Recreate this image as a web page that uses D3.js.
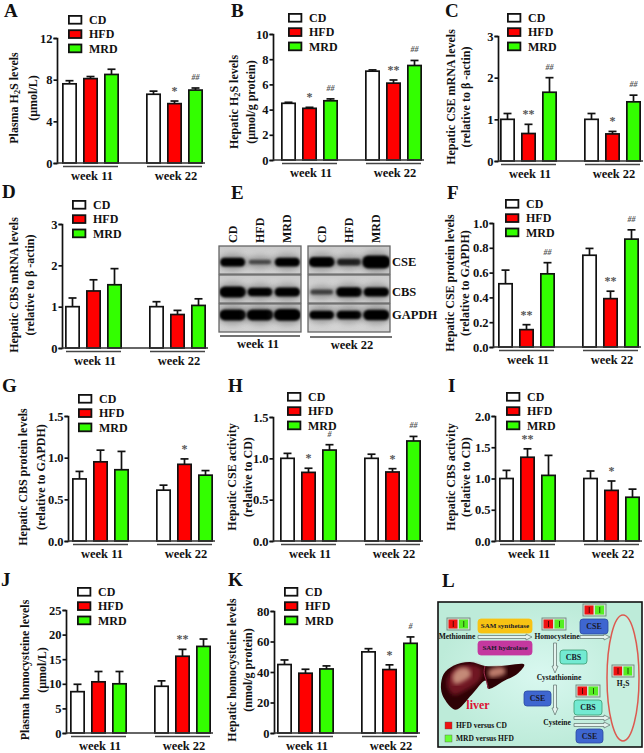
<!DOCTYPE html>
<html lang="en">
<head>
<meta charset="utf-8">
<title>Hepatic H2S and homocysteine panels</title>
<script src="https://d3js.org/d3.v7.min.js"></script>
<style>
  body { margin: 0; background: #fff; }
  svg { display: block; }
  text { font-family: "Liberation Serif", "Times New Roman", serif; font-weight: bold; fill: #111; }
</style>
</head>
<body>
<div id="vis"></div>
<script>
// Data. values = bar height, upper = top of the error bar
var groups = ["CD", "HFD", "MRD"];
var weeks = ["week 11", "week 22"];
var colours = ["#ffffff", "#ff0000", "#33ff00"];

var aValues = [7.6, 8.1, 8.5, 6.6, 5.7, 7.0];
var aUpper = [7.9, 8.3, 9.0, 6.9, 5.95, 7.2];
var aTicks = [0, 4, 8, 12];
var aSig = ["", "", "", "", "*", "##"];
var aTitle = ["Plasma H2S levels", "(μmol/L)"];

var bValues = [4.5, 4.1, 4.7, 7.05, 6.1, 7.5];
var bUpper = [4.58, 4.18, 4.85, 7.15, 6.35, 7.9];
var bTicks = [0, 2, 4, 6, 8, 10];
var bSig = ["", "*", "##", "", "**", "##"];
var bTitle = ["Hepatic  H2S levels", "(μmol/g protein)"];

var cValues = [1.0, 0.66, 1.65, 1.0, 0.65, 1.42];
var cUpper = [1.14, 0.88, 2.0, 1.14, 0.71, 1.58];
var cTicks = [0, 1, 2, 3];
var cSig = ["", "**", "##", "", "*", "##"];
var cTitle = ["Hepatic CSE mRNA levels", "(relative to β -actin)"];

var dValues = [1.0, 1.38, 1.53, 1.0, 0.81, 1.03];
var dUpper = [1.21, 1.65, 1.92, 1.12, 0.91, 1.19];
var dTicks = [0, 1, 2, 3];
var dSig = ["", "", "", "", "", ""];
var dTitle = ["Hepatic CBS mRNA levels", "(relative to β -actin)"];

var fValues = [0.51, 0.14, 0.59, 0.74, 0.39, 0.87];
var fUpper = [0.62, 0.18, 0.68, 0.795, 0.45, 0.945];
var fTicks = [0, 0.2, 0.4, 0.6, 0.8, 1.0];
var fSig = ["", "**", "##", "", "**", "##"];
var fTitle = ["Hepatic CSE protein levels", "(relative to GAPDH)"];

var gValues = [0.745, 0.95, 0.855, 0.61, 0.92, 0.79];
var gUpper = [0.835, 1.09, 1.075, 0.67, 0.985, 0.845];
var gTicks = [0, 0.5, 1.0, 1.5];
var gSig = ["", "", "", "", "*", ""];
var gTitle = ["Hepatic CBS protein levels", "(relative to GAPDH)"];

var hValues = [1.0, 0.83, 1.1, 1.0, 0.835, 1.21];
var hUpper = [1.06, 0.88, 1.165, 1.05, 0.875, 1.265];
var hTicks = [0, 0.5, 1.0, 1.5];
var hSig = ["", "*", "#", "", "*", "##"];
var hTitle = ["Hepatic CSE activity", "(relative to CD)"];

var iValues = [1.0, 1.34, 1.05, 1.0, 0.81, 0.70];
var iUpper = [1.13, 1.475, 1.37, 1.12, 0.96, 0.83];
var iTicks = [0, 0.5, 1.0, 1.5, 2.0];
var iSig = ["", "**", "", "", "*", ""];
var iTitle = ["Hepatic CBS activity", "(relative to CD)"];

var jValues = [8.4, 10.4, 10.0, 9.5, 15.6, 17.6];
var jUpper = [9.9, 12.5, 12.5, 10.6, 17.0, 19.1];
var jTicks = [0, 5, 10, 15, 20, 25];
var jSig = ["", "", "", "", "**", ""];
var jTitle = ["Plasma homocysteine levels", "(μmol/L)"];

var kValues = [44.9, 39.2, 42, 53.2, 41.6, 58.8];
var kUpper = [47.9, 41.8, 44, 55.3, 44.7, 63];
var kTicks = [0, 20, 40, 60, 80];
var kSig = ["", "", "", "", "*", "#"];
var kTitle = ["Hepatic homocysteine levels", "(nmol/g protein)"];

// Western blot band strength per lane, panel E
var blotRows = ["CSE", "CBS", "GAPDH"];
var blotWeek11 = [[0.75, 0.25, 0.75], [1.0, 0.7, 0.8], [1.0, 1.0, 1.1]];
var blotWeek22 = [[0.9, 0.5, 1.25], [0.3, 0.85, 0.8], [0.7, 0.7, 0.95]];

// Panel L labels
var pathwayMetabolites = ["Methionine", "Homocysteine", "Cystathionine", "Cysteine"];
var pathwayKey = ["HFD versus CD", "MRD versus HFD"];

// Layout of the chart panels
var panels = [
  {id: "A", values: aValues, upper: aUpper, ticks: aTicks, sig: aSig, title: aTitle, fmt: "d", left: 57, base: 163, top: 38, barX: 62, legX: 68, legY: 15, titleX: [14, 33], titleY: 98, letX: 4, letY: 17},
  {id: "B", values: bValues, upper: bUpper, ticks: bTicks, sig: bSig, title: bTitle, fmt: "d", left: 273, base: 160, top: 34, barX: 281, legX: 288, legY: 13, titleX: [234, 251], titleY: 102, letX: 231, letY: 17},
  {id: "C", values: cValues, upper: cUpper, ticks: cTicks, sig: cSig, title: cTitle, fmt: "d", left: 498, base: 161, top: 36, barX: 500, legX: 507, legY: 13, titleX: [451, 466], titleY: 97, letX: 445, letY: 17},
  {id: "D", values: dValues, upper: dUpper, ticks: dTicks, sig: dSig, title: dTitle, fmt: "d", left: 62, base: 348, top: 224, barX: 65, legX: 72, legY: 200, titleX: [14, 30], titleY: 285, letX: 2, letY: 198},
  {id: "F", values: fValues, upper: fUpper, ticks: fTicks, sig: fSig, title: fTitle, fmt: ".1f", left: 493, base: 347, top: 223, barX: 498, legX: 505, legY: 199, titleX: [450, 465], titleY: 283, letX: 447, letY: 199},
  {id: "G", values: gValues, upper: gUpper, ticks: gTicks, sig: gSig, title: gTitle, fmt: ".1f", left: 68, base: 541, top: 416, barX: 72, legX: 78, legY: 394, titleX: [23, 41], titleY: 477, letX: 2, letY: 392},
  {id: "H", values: hValues, upper: hUpper, ticks: hTicks, sig: hSig, title: hTitle, fmt: ".1f", left: 273, base: 541, top: 417, barX: 280, legX: 287, legY: 392, titleX: [232, 248], titleY: 477, letX: 228, letY: 392},
  {id: "I", values: iValues, upper: iUpper, ticks: iTicks, sig: iSig, title: iTitle, fmt: ".1f", left: 495, base: 541, top: 416, barX: 499, legX: 506, legY: 392, titleX: [451, 466], titleY: 477, letX: 448, letY: 392},
  {id: "J", values: jValues, upper: jUpper, ticks: jTicks, sig: jSig, title: jTitle, fmt: "d", left: 66, base: 733, top: 610, barX: 70, legX: 77, legY: 587, titleX: [25, 42], titleY: 670, letX: 1, letY: 586},
  {id: "K", values: kValues, upper: kUpper, ticks: kTicks, sig: kSig, title: kTitle, fmt: "d", left: 274, base: 733, top: 611, barX: 277, legX: 284, legY: 587, titleX: [232, 248], titleY: 670, letX: 228, letY: 586}
];

var svg = d3.select("#vis").append("svg").attr("width", 644).attr("height", 753);
var defs = svg.append("defs");
defs.append("filter").attr("id", "bandBlur").attr("x", "-30%").attr("y", "-60%").attr("width", "160%").attr("height", "220%")
  .append("feGaussianBlur").attr("stdDeviation", 1.1);
defs.append("filter").attr("id", "haloBlur").attr("x", "-40%").attr("y", "-100%").attr("width", "180%").attr("height", "300%")
  .append("feGaussianBlur").attr("stdDeviation", 3);
defs.append("filter").attr("id", "softBlur").append("feGaussianBlur").attr("stdDeviation", 2);
var blotGrad = defs.append("linearGradient").attr("id", "blotBg").attr("x2", 0).attr("y2", 1);
blotGrad.append("stop").attr("offset", 0).attr("stop-color", "#c8c8c8");
blotGrad.append("stop").attr("offset", 0.5).attr("stop-color", "#dedede");
blotGrad.append("stop").attr("offset", 1).attr("stop-color", "#d0d0d0");
var bgGrad = defs.append("radialGradient").attr("id", "pathBg");
bgGrad.append("stop").attr("offset", 0).attr("stop-color", "#d9f8f0");
bgGrad.append("stop").attr("offset", 1).attr("stop-color", "#bdebd9");

// Puts "H2S" with a real subscript 2, plain text otherwise
function richText(sel, str) {
  var parts = str.split("H2S");
  sel.text(parts[0]);
  if (parts.length > 1) {
    sel.append("tspan").text("H");
    sel.append("tspan").attr("font-size", "70%").attr("dy", 2).text("2");
    sel.append("tspan").attr("dy", -2).text("S" + parts[1]);
  }
}

panels.forEach(function(p) { drawPanel(p); });
drawBlots();
drawPathway();

function drawPanel(p) {
  var g = svg.append("g").attr("class", "panel-" + p.id);

  // 84px from week to week, 21px from bar to bar
  var x0 = d3.scaleBand().domain(weeks).range([p.barX, p.barX + 141]).paddingInner(27 / 84);
  var x1 = d3.scaleBand().domain(groups).range([0, 57]).paddingInner(6 / 21);
  var y = d3.scaleLinear().domain([0, p.ticks[p.ticks.length - 1]]).range([p.base, p.top]);

  var rows = p.values.map(function(v, i) {
    return {week: weeks[Math.floor(i / 3)], group: groups[i % 3], value: v, upper: p.upper[i], sig: p.sig[i], colour: colours[i % 3]};
  });
  var bw = x1.bandwidth();
  function cx(d) { return x0(d.week) + x1(d.group) + bw / 2; }

  // Error bars first so the bar outline sits on top
  g.selectAll(".err").data(rows).enter().append("line")
    .attr("x1", cx).attr("x2", cx)
    .attr("y1", function(d) { return y(d.value); })
    .attr("y2", function(d) { return y(d.upper); })
    .attr("stroke", "#111").attr("stroke-width", 1.7);
  g.selectAll(".cap").data(rows).enter().append("line")
    .attr("x1", function(d) { return cx(d) - 4; }).attr("x2", function(d) { return cx(d) + 4; })
    .attr("y1", function(d) { return y(d.upper); }).attr("y2", function(d) { return y(d.upper); })
    .attr("stroke", "#111").attr("stroke-width", 1.7);

  g.selectAll(".bar").data(rows).enter().append("rect")
    .attr("x", function(d) { return cx(d) - bw / 2 + 0.85; })
    .attr("width", bw - 1.7)
    .attr("y", function(d) { return y(d.value); })
    .attr("height", function(d) { return p.base - y(d.value); })
    .attr("fill", function(d) { return d.colour; })
    .attr("stroke", "#111").attr("stroke-width", 1.7);

  // Significance marks in grey above the error bar
  g.selectAll(".sig").data(rows.filter(function(d) { return d.sig; })).enter().append("text")
    .attr("x", cx)
    .attr("y", function(d) { return y(d.upper) - (d.sig[0] == "*" ? 6 : 8); })
    .attr("text-anchor", "middle")
    .attr("font-size", function(d) { return d.sig[0] == "*" ? 12 : 8; })
    .attr("font-style", function(d) { return d.sig[0] == "*" ? "normal" : "italic"; })
    .style("fill", "#555")
    .text(function(d) { return d.sig; });

  // Axes
  var yAxis = d3.axisLeft(y).tickValues(p.ticks).tickSize(3.5).tickPadding(1).tickFormat(d3.format(p.fmt));
  var ya = g.append("g").attr("transform", "translate(" + p.left + ",0)").call(yAxis);
  ya.select(".domain").attr("stroke", "#111").attr("stroke-width", 1.7);
  ya.selectAll(".tick line").attr("stroke", "#111").attr("stroke-width", 1.7);
  ya.selectAll(".tick text").attr("font-size", 12.5).attr("font-family", null);

  var baseEnd = x0(weeks[1]) + 59;
  g.append("line").attr("x1", p.left).attr("x2", baseEnd).attr("y1", p.base).attr("y2", p.base)
    .attr("stroke", "#333").attr("stroke-width", 1.7);

  // Week brackets under the axis
  weeks.forEach(function(w) {
    var left = x0(w) + 1;
    g.append("line").attr("x1", left).attr("x2", left + 55)
      .attr("y1", p.base + 3.5).attr("y2", p.base + 3.5)
      .attr("stroke", "#444").attr("stroke-width", 1.4);
    g.append("text").attr("x", left + 29).attr("y", p.base + 17)
      .attr("text-anchor", "middle").attr("font-size", 12.5).text(w);
  });

  // Axis title, two rotated lines
  p.title.forEach(function(line, i) {
    var t = g.append("text")
      .attr("transform", "translate(" + (p.titleX[i] + 4) + "," + p.titleY + ") rotate(-90)")
      .attr("text-anchor", "middle").attr("font-size", 12);
    richText(t, line);
  });

  // Legend
  var leg = g.append("g");
  groups.forEach(function(name, i) {
    var ly = p.legY + i * 14.3;
    leg.append("rect").attr("x", p.legX + 0.9).attr("y", ly + 0.9).attr("width", 12.5).attr("height", 7.8)
      .attr("fill", colours[i]).attr("stroke", "#111").attr("stroke-width", 1.8);
    leg.append("text").attr("x", p.legX + 21).attr("y", ly + 9).attr("font-size", 12).text(name);
  });

  g.append("text").attr("x", p.letX).attr("y", p.letY).attr("font-size", 19).text(p.id);
}

function drawBlots() {
  var g = svg.append("g").attr("class", "panel-E");
  g.append("text").attr("x", 231).attr("y", 199).attr("font-size", 19).text("E");

  var yRow = d3.scaleBand().domain(blotRows).range([246, 332]).paddingInner(0.03);
  var bandH = d3.scaleLinear().domain([0, 1.25]).range([2.5, 13]);
  var bandW = d3.scaleLinear().domain([0.2, 1.25]).range([22, 28]);
  var bandO = d3.scaleLinear().domain([0.2, 0.7]).range([0.5, 1]).clamp(true);
  var rowShift = {CSE: 2, CBS: 3, GAPDH: -3};

  [{week: weeks[0], rows: blotWeek11, x: 219, labelX: 258, lineX: 220, lineEnd: 300, lineY: 336},
   {week: weeks[1], rows: blotWeek22, x: 308, labelX: 352, lineX: 310, lineEnd: 392, lineY: 337}].forEach(function(b, w) {
    var xLane = d3.scaleBand().domain(groups).range([b.x, b.x + 82]);
    groups.forEach(function(name) {
      g.append("text")
        .attr("transform", "translate(" + (xLane(name) + xLane.bandwidth() / 2 + 4) + ",243) rotate(-90)")
        .attr("font-size", 12).text(name);
    });
    blotRows.forEach(function(row, r) {
      var clipId = "blot" + w + r;
      defs.append("clipPath").attr("id", clipId).append("rect")
        .attr("x", b.x).attr("y", yRow(row)).attr("width", 82).attr("height", yRow.bandwidth());
      var f = g.append("g").attr("clip-path", "url(#" + clipId + ")");
      f.append("rect").attr("x", b.x).attr("y", yRow(row)).attr("width", 82).attr("height", yRow.bandwidth())
        .attr("fill", "url(#blotBg)");
      var cy = yRow(row) + yRow.bandwidth() / 2 + rowShift[row];
      groups.forEach(function(name, i) {
        var v = b.rows[r][i];
        var cx = xLane(name) + xLane.bandwidth() / 2;
        f.append("ellipse").attr("cx", cx).attr("cy", cy).attr("rx", bandW(v) / 2 + 3).attr("ry", bandH(v) / 2 + 4)
          .attr("fill", "#444").attr("opacity", 0.45).attr("filter", "url(#haloBlur)");
        f.append("rect").attr("x", cx - bandW(v) / 2).attr("y", cy - bandH(v) / 2)
          .attr("width", bandW(v)).attr("height", bandH(v))
          .attr("rx", Math.min(6, bandH(v) / 2)).attr("fill", "#050505").attr("opacity", bandO(v))
          .attr("filter", "url(#bandBlur)");
      });
      g.append("rect").attr("x", b.x).attr("y", yRow(row)).attr("width", 82).attr("height", yRow.bandwidth())
        .attr("fill", "none").attr("stroke", "#666").attr("stroke-width", 1.3);
    });
    g.append("line").attr("x1", b.lineX).attr("x2", b.lineEnd).attr("y1", b.lineY).attr("y2", b.lineY)
      .attr("stroke", "#444").attr("stroke-width", 1.4);
    g.append("text").attr("x", b.labelX).attr("y", b.lineY + 12).attr("text-anchor", "middle")
      .attr("font-size", 12.5).text(b.week);
  });

  blotRows.forEach(function(row) {
    g.append("text").attr("x", 392).attr("y", yRow(row) + yRow.bandwidth() / 2 + rowShift[row] + 4)
      .attr("font-size", 12.5).text(row);
  });
}

function drawPathway() {
  var g = svg.append("g").attr("class", "panel-L");
  g.append("text").attr("x", 442).attr("y", 587).attr("font-size", 19).text("L");
  g.append("rect").attr("x", 438).attr("y", 602).attr("width", 204).attr("height", 145)
    .attr("fill", "url(#pathBg)").attr("stroke", "#111").attr("stroke-width", 1.6);

  // Red/green fold-change icon
  function icon(x, y, w) {
    var s = (w - 4) / 2;
    g.append("rect").attr("x", x).attr("y", y).attr("width", w).attr("height", 12)
      .attr("fill", "#cfe4d6").attr("stroke", "#6f857c").attr("stroke-width", 0.9);
    g.append("rect").attr("x", x + 1.5).attr("y", y + 1.5).attr("width", s - 0.5).attr("height", 9).attr("fill", "#ee1111");
    g.append("rect").attr("x", x + 2.5 + s).attr("y", y + 1.5).attr("width", s - 0.5).attr("height", 9).attr("fill", "#55ee22");
    g.append("line").attr("x1", x + 1.5 + s / 2).attr("x2", x + 1.5 + s / 2).attr("y1", y + 3).attr("y2", y + 9).attr("stroke", "#300").attr("stroke-width", 0.8);
    g.append("line").attr("x1", x + 2.5 + s * 1.5).attr("x2", x + 2.5 + s * 1.5).attr("y1", y + 3).attr("y2", y + 9).attr("stroke", "#130").attr("stroke-width", 0.8);
  }
  // Enzyme box
  function enzyme(x, y, w, h, name, fill, stroke, size) {
    g.append("rect").attr("x", x).attr("y", y).attr("width", w).attr("height", h).attr("rx", 3)
      .attr("fill", fill).attr("stroke", stroke).attr("stroke-width", 0.8);
    g.append("text").attr("x", x + w / 2).attr("y", y + h / 2 + size * 0.33).attr("text-anchor", "middle")
      .attr("font-size", size).style("fill", "#1a1a2a").text(name);
  }
  // Hollow arrows
  function arrowRight(x1, x2, y) {
    g.append("path").attr("d", d3.line()([[x1, y - 1.5], [x2 - 6, y - 1.5], [x2 - 6, y - 3], [x2, y], [x2 - 6, y + 3], [x2 - 6, y + 1.5], [x1, y + 1.5]]) + "Z")
      .attr("fill", "#e4f3ee").attr("stroke", "#6b7d78").attr("stroke-width", 0.8);
  }
  function arrowDown(x, y1, y2) {
    g.append("path").attr("d", d3.line()([[x - 1.5, y1], [x - 1.5, y2 - 7], [x - 3, y2 - 7], [x, y2], [x + 3, y2 - 7], [x + 1.5, y2 - 7], [x + 1.5, y1]]) + "Z")
      .attr("fill", "#e4f3ee").attr("stroke", "#6b7d78").attr("stroke-width", 0.8);
  }

  // H2S ellipse
  g.append("ellipse").attr("cx", 623).attr("cy", 678).attr("rx", 16).attr("ry", 63)
    .attr("fill", "#c7efdf").attr("stroke", "#dc5a50").attr("stroke-width", 1.5);

  enzyme(478, 619, 54, 14, "SAM synthetase", "#f8c313", "#f8c313", 7);
  enzyme(478, 641, 54, 14, "SAH hydrolase", "#c4389f", "#c4389f", 7);
  enzyme(580, 619, 28, 15, "CSE", "#3e66d0", "#2c4aa0", 8);
  enzyme(560, 650, 27, 14, "CBS", "#73ead2", "#3a9a70", 8);
  enzyme(524, 691, 27, 15, "CSE", "#3e66d0", "#2c4aa0", 8);
  enzyme(574, 700, 28, 15, "CBS", "#73ead2", "#3a9a70", 8);
  enzyme(576, 729, 27, 14, "CSE", "#3e66d0", "#2c4aa0", 8);

  arrowRight(478, 532, 637);
  arrowRight(580, 610, 637);
  arrowRight(574, 610, 718);
  arrowRight(574, 610, 725);
  arrowDown(555, 643, 673);
  arrowDown(555, 685, 715);

  icon(447, 618, 23);
  icon(542, 618, 24);
  icon(583, 604, 23);
  icon(576, 685, 24);
  icon(612, 665, 22);

  // Metabolite names
  var mx = [457, 557, 559, 557], my = [639, 639, 680, 725];
  pathwayMetabolites.forEach(function(name, i) {
    g.append("text").attr("x", mx[i]).attr("y", my[i]).attr("text-anchor", "middle").attr("font-size", 7.5).text(name);
  });
  var h2s = g.append("text").attr("x", 623).attr("y", 686).attr("text-anchor", "middle").attr("font-size", 7.5);
  richText(h2s, "H2S");

  // Liver drawing
  var lp = d3.line().curve(d3.curveCatmullRomClosed.alpha(0.6));
  function liverPt(a) { return a.map(function(q) { return [435 + q[0] / 3, 598 + q[1] / 3]; }); }
  g.append("path").attr("d", lp(liverPt([[18, 272], [26, 228], [55, 203], [105, 192], [150, 204], [200, 204], [268, 200], [250, 225], [205, 250], [160, 272], [152, 248], [110, 290], [62, 335], [28, 302]])))
    .attr("fill", "#2e0205");
  g.append("path").attr("d", lp(liverPt([[35, 255], [55, 215], [105, 200], [140, 212], [135, 245], [95, 275], [55, 290]])))
    .attr("fill", "#701520").attr("filter", "url(#softBlur)");
  g.append("path").attr("d", lp(liverPt([[52, 235], [70, 212], [100, 212], [108, 232], [85, 250], [60, 258]])))
    .attr("fill", "#c48a78").attr("filter", "url(#softBlur)");
  g.append("path").attr("d", lp(liverPt([[160, 218], [205, 208], [212, 225], [180, 238], [165, 238]])))
    .attr("fill", "#bd7c6c").attr("filter", "url(#softBlur)");
  g.append("path").attr("d", d3.line().curve(d3.curveBasis)(liverPt([[150, 204], [145, 225], [155, 248], [160, 272]])))
    .attr("fill", "none").attr("stroke", "#a03050").attr("stroke-width", 1);
  g.append("text").attr("x", 478).attr("y", 709).attr("text-anchor", "middle").attr("font-size", 12)
    .style("fill", "#dd1133").text("liver");

  // Key
  pathwayKey.forEach(function(label, i) {
    var ky = 722 + i * 13;
    g.append("rect").attr("x", 445).attr("y", ky).attr("width", 7).attr("height", 7)
      .attr("fill", i == 0 ? "#ee1111" : "#66ff33").attr("stroke", "#555").attr("stroke-width", 0.4);
    g.append("text").attr("x", 456).attr("y", ky + 5.5).attr("font-size", 7.5).text(label);
  });
}
</script>
</body>
</html>
